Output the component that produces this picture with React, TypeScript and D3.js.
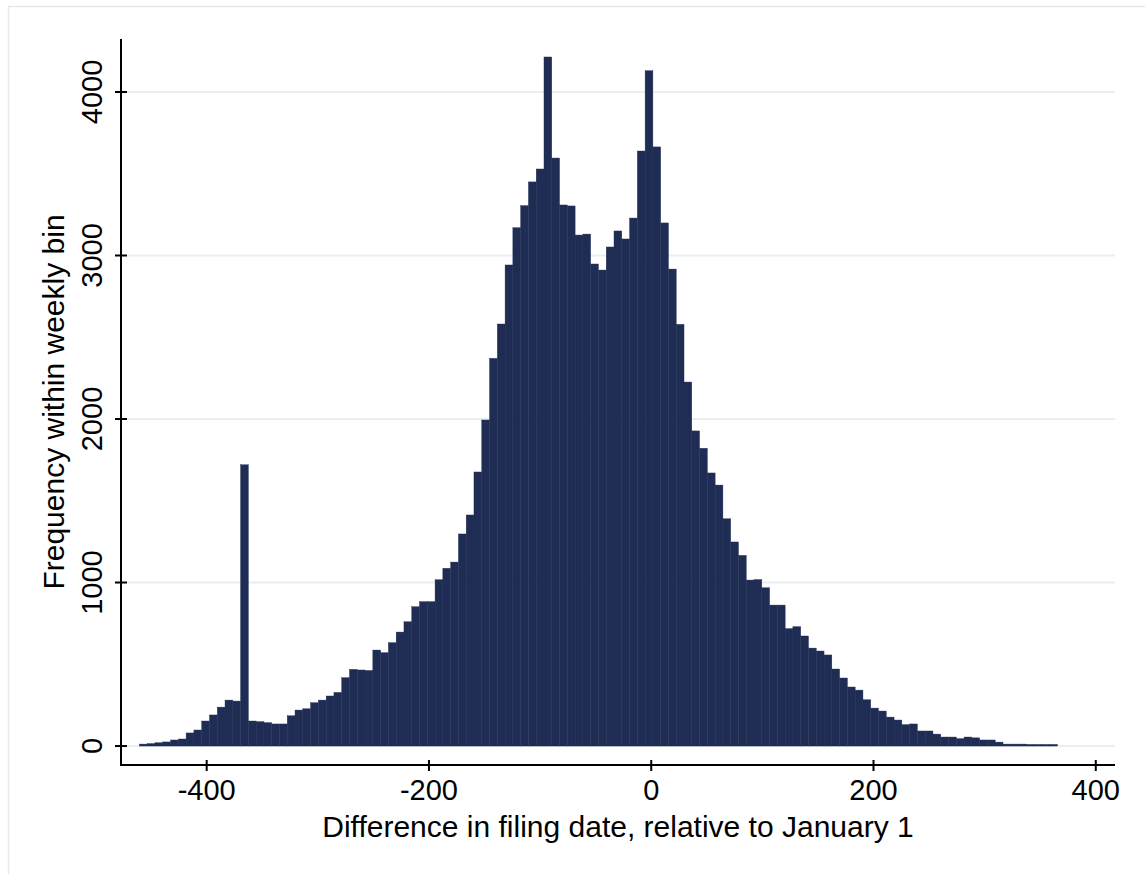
import React, { useEffect, useRef } from 'react';
import * as d3 from 'd3';

// weekly bins, 7 days wide, first bin starts at -460.5
const binStart = -460.5;
const binWidth = 7;
const counts = [
  12, 15, 20, 25, 37, 43, 80, 98, 153, 190, 238, 281, 275, 1720, 153, 149, 143, 135, 135, 185,
  220, 228, 265, 281, 306, 328, 418, 469, 465, 462, 587, 571, 632, 697, 760, 852, 883, 883, 1017, 1087,
  1125, 1297, 1413, 1676, 1994, 2371, 2581, 2942, 3170, 3305, 3450, 3529, 4214, 3596, 3309, 3303, 3125, 3131, 2948, 2911,
  3052, 3150, 3101, 3229, 3639, 4130, 3664, 3199, 2917, 2579, 2226, 1927, 1821, 1670, 1596, 1390, 1248, 1166, 1015, 1018,
  968, 862, 862, 718, 730, 673, 599, 581, 557, 471, 416, 361, 342, 283, 232, 214, 177, 159, 131, 135,
  92, 92, 73, 55, 55, 45, 55, 50, 37, 37, 24, 12, 12, 12, 10, 10, 10, 10,
];
const xTicks = [-400, -200, 0, 200, 400];
const yTicks = [0, 1000, 2000, 3000, 4000];
const xTitle = 'Difference in filing date, relative to January 1';
const yTitle = 'Frequency within weekly bin';

const App = () => {
  const ref = useRef(null);

  useEffect(() => {
    const svg = d3.select(ref.current);
    svg.selectAll('*').remove();

    const left = 121, right = 1115, top = 39, bottom = 765;
    const font = '"Liberation Sans", Arial, sans-serif';
    const barColor = '#1f2d54';
    const gridColor = '#e8eff1';

    const xScale = d3.scaleLinear().domain([-477.1, 417.3]).range([left, right]);
    const yScale = d3.scaleLinear().domain([-116, 4324]).range([bottom, top]);

    // outer frame of the graph region
    svg.append('rect')
      .attr('x', 8.5).attr('y', 6.5)
      .attr('width', 1200).attr('height', 900)
      .attr('fill', 'white')
      .attr('stroke', '#e6e9ea')
      .attr('stroke-width', 1.5);

    // gridlines
    svg.append('g')
      .selectAll('line')
      .data(yTicks)
      .join('line')
      .attr('x1', left + 6).attr('x2', right)
      .attr('y1', d => yScale(d)).attr('y2', d => yScale(d))
      .attr('stroke', gridColor)
      .attr('stroke-width', 2);

    // bars
    const bins = counts.map((c, i) => ({
      lo: binStart + i * binWidth,
      hi: binStart + (i + 1) * binWidth,
      c,
    }));
    svg.append('g')
      .selectAll('rect')
      .data(bins)
      .join('rect')
      .attr('x', d => xScale(d.lo))
      .attr('width', d => xScale(d.hi) - xScale(d.lo))
      .attr('y', d => yScale(d.c))
      .attr('height', d => yScale(0) - yScale(d.c))
      .attr('fill', barColor)
      .attr('stroke', barColor)
      .attr('stroke-width', 0.4);

    // axes
    const axes = svg.append('g').attr('stroke', 'black').attr('stroke-width', 2);
    axes.append('line')
      .attr('x1', left).attr('x2', left)
      .attr('y1', top).attr('y2', bottom + 1);
    axes.append('line')
      .attr('x1', left - 1).attr('x2', right)
      .attr('y1', bottom).attr('y2', bottom);

    axes.selectAll('.yt')
      .data(yTicks)
      .join('line')
      .attr('class', 'yt')
      .attr('x1', left - 6).attr('x2', left + 6)
      .attr('y1', d => yScale(d)).attr('y2', d => yScale(d));

    axes.selectAll('.xt')
      .data(xTicks)
      .join('line')
      .attr('class', 'xt')
      .attr('x1', d => xScale(d)).attr('x2', d => xScale(d))
      .attr('y1', bottom - 5).attr('y2', bottom + 6);

    // tick labels
    svg.append('g')
      .selectAll('text')
      .data(xTicks)
      .join('text')
      .attr('x', d => xScale(d))
      .attr('y', 800)
      .attr('text-anchor', 'middle')
      .attr('font-family', font)
      .attr('font-size', 29)
      .text(d => d);

    svg.append('g')
      .selectAll('text')
      .data(yTicks)
      .join('text')
      .attr('transform', d => `translate(102,${yScale(d)}) rotate(-90)`)
      .attr('text-anchor', 'middle')
      .attr('font-family', font)
      .attr('font-size', 29)
      .text(d => d);

    // axis titles
    svg.append('text')
      .attr('x', (left + right) / 2)
      .attr('y', 837)
      .attr('text-anchor', 'middle')
      .attr('font-family', font)
      .attr('font-size', 30)
      .text(xTitle);

    svg.append('text')
      .attr('transform', `translate(64,${(top + bottom) / 2}) rotate(-90)`)
      .attr('text-anchor', 'middle')
      .attr('font-family', font)
      .attr('font-size', 30)
      .text(yTitle);
  }, []);

  return (
    <svg
      ref={ref}
      width={1145}
      height={874}
      style={{ position: 'absolute', left: 0, top: 0, background: 'white' }}
    />
  );
};

export default App;
